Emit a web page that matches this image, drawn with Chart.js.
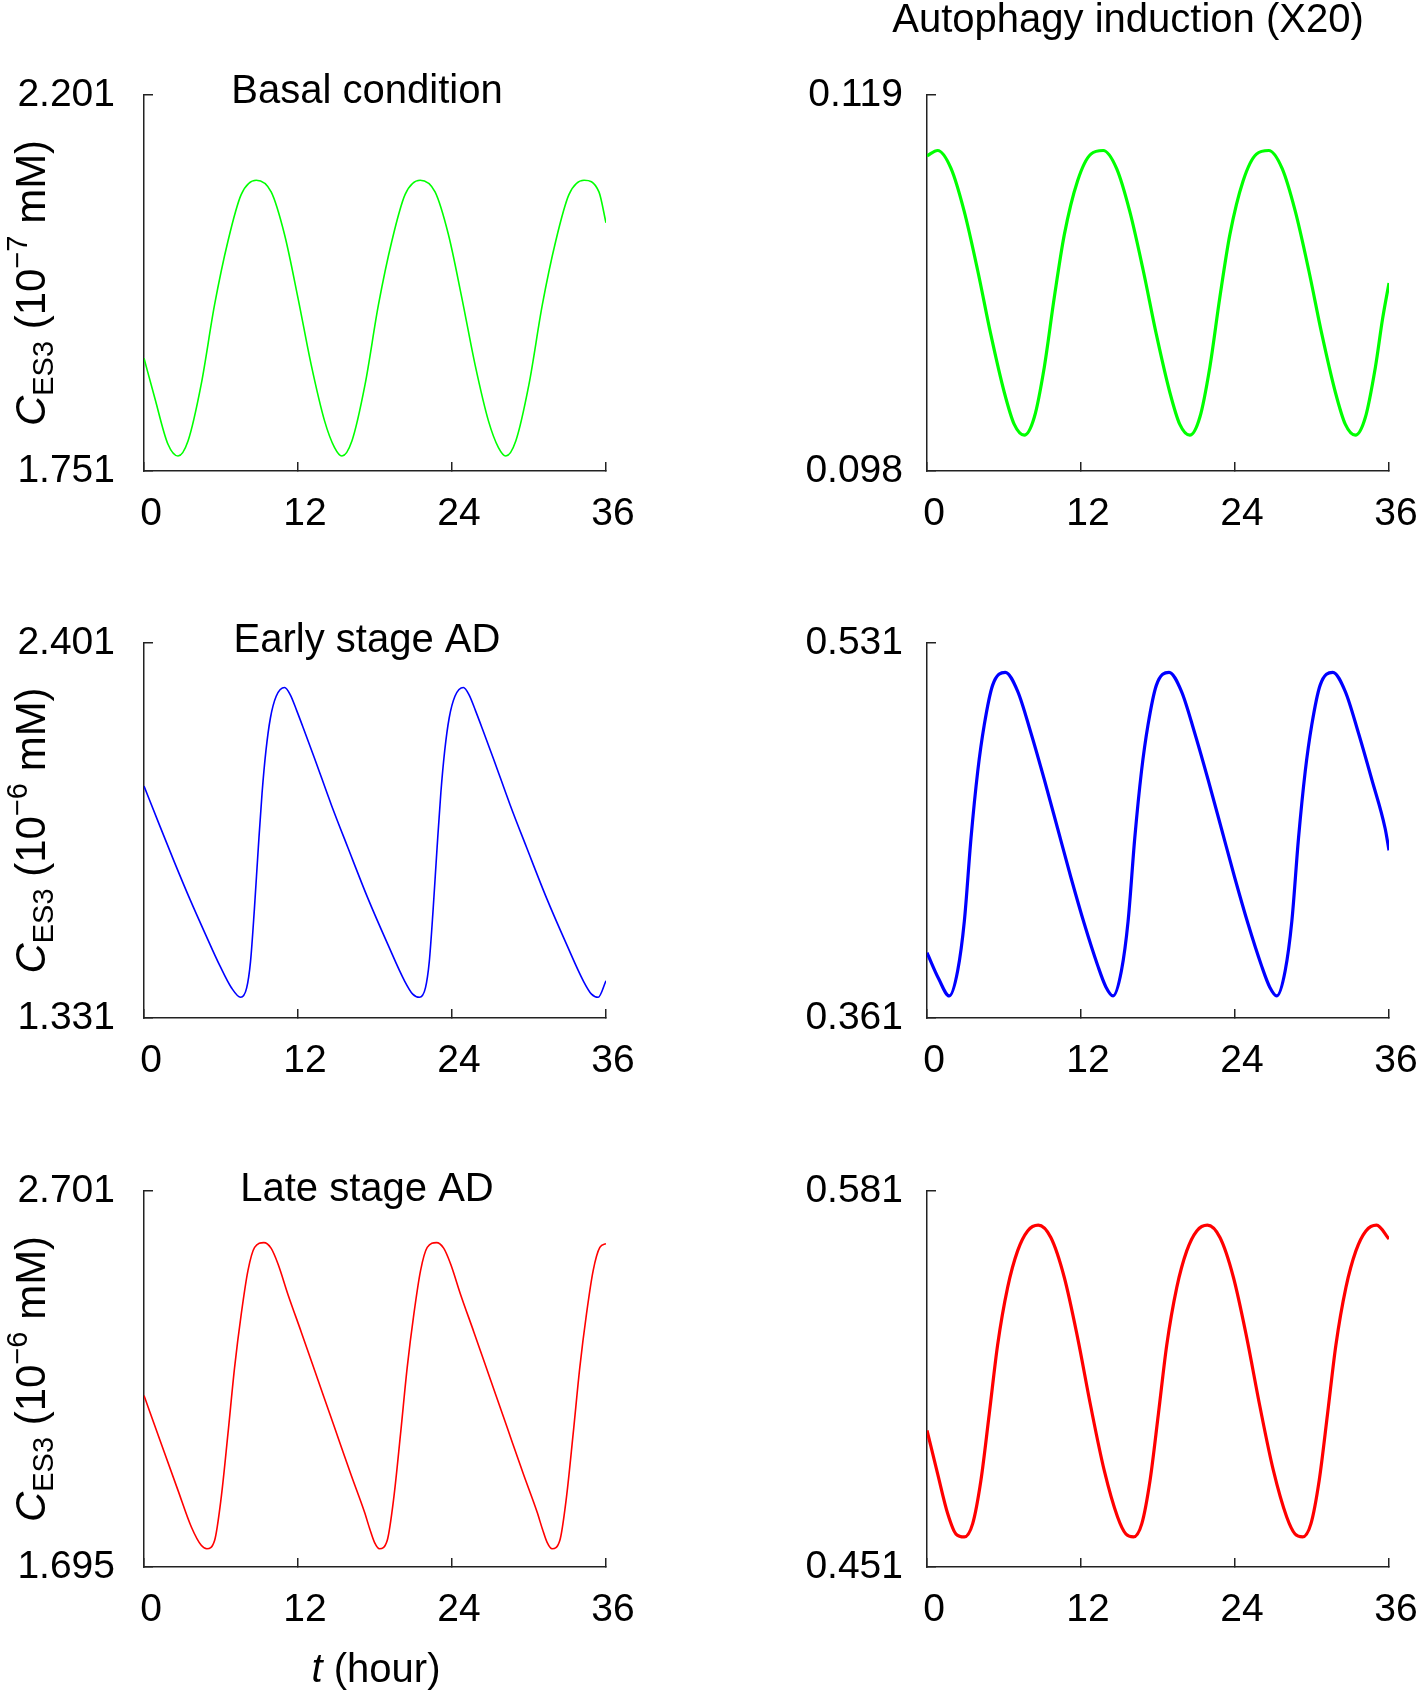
<!DOCTYPE html>
<html>
<head>
<meta charset="utf-8">
<title>CES3 time courses</title>
<script src="https://cdn.jsdelivr.net/npm/chart.js@4.4.1/dist/chart.umd.min.js"></script>
<style>
  html, body { margin: 0; padding: 0; background: #fff; }
  #page { position: relative; width: 1418px; height: 1693px; }
  #page canvas { position: absolute; left: 0; top: 0; }
</style>
</head>
<body>
<div id="page">
  <canvas id="basal" width="1418" height="1693"></canvas>
  <canvas id="basalAuto" width="1418" height="1693"></canvas>
  <canvas id="early" width="1418" height="1693"></canvas>
  <canvas id="earlyAuto" width="1418" height="1693"></canvas>
  <canvas id="late" width="1418" height="1693"></canvas>
  <canvas id="lateAuto" width="1418" height="1693"></canvas>
</div>
<script>
// shared time axis (hours)
const hourTicks = [0, 12, 24, 36];

// Basal condition
const basalHours = [0, 0.83, 1.87, 2.65, 3.43, 4.46, 5.5, 6.54, 7.58, 8.75, 9.91, 10.95, 12.0, 13.03, 14.07, 14.85, 15.42,
  16.2, 17.23, 18.27, 19.31, 20.35, 21.52, 22.68, 23.72, 24.77, 25.8, 26.84, 27.62, 28.19,
  28.97, 30.0, 31.04, 32.08, 33.12, 34.29, 35.45, 36.0];
const basalConc = [1.886, 1.839, 1.783, 1.769, 1.787, 1.855, 1.950, 2.026, 2.082, 2.099, 2.085, 2.034, 1.958, 1.878, 1.811, 1.779, 1.769,
  1.787, 1.855, 1.950, 2.026, 2.082, 2.099, 2.085, 2.034, 1.958, 1.878, 1.811, 1.779, 1.769,
  1.787, 1.855, 1.950, 2.026, 2.082, 2.099, 2.085, 2.048];
const basalTicks = [1.751, 2.201];

// Basal condition, autophagy induction (X20)
const basalAutoHours = [0, 0.83, 1.87, 2.9, 3.95, 4.98, 6.02, 6.8, 7.58, 8.36, 9.14, 9.92, 10.7, 11.73, 12.77, 13.73,
  14.77, 15.8, 16.85, 17.88, 18.92, 19.7, 20.48, 21.26, 22.04, 22.82, 23.6, 24.63, 25.67, 26.63,
  27.67, 28.7, 29.75, 30.78, 31.82, 32.6, 33.38, 34.16, 34.94, 35.5, 36.0];
const basalAutoConc = [0.1156, 0.1159, 0.1149, 0.1125, 0.1092, 0.1056, 0.1024, 0.1006, 0.1000, 0.1010, 0.1038, 0.1077, 0.1112, 0.1142, 0.1157, 0.1159,
  0.1149, 0.1125, 0.1092, 0.1056, 0.1024, 0.1006, 0.1000, 0.1010, 0.1038, 0.1077, 0.1112, 0.1142, 0.1157, 0.1159,
  0.1149, 0.1125, 0.1092, 0.1056, 0.1024, 0.1006, 0.1000, 0.1010, 0.1038, 0.1065, 0.1085];
const basalAutoTicks = [0.098, 0.119];

// Early stage AD
const earlyHours = [0, 1.2, 2.4, 3.6, 4.8, 5.9, 6.8, 7.53, 8.0, 8.3, 8.6, 8.9, 9.2, 9.5, 9.85, 10.3, 10.96,
  11.4, 11.9, 12.5, 13.3, 14.6, 15.9, 17.44, 19.0, 20.3, 20.94, 21.46,
  21.93, 22.23, 22.53, 22.83, 23.13, 23.43, 23.78, 24.23, 24.89,
  25.33, 25.83, 26.43, 27.23, 28.53, 29.83, 31.37, 32.93, 34.23, 34.87, 35.39, 36.0];
const earlyConc = [1.993, 1.882, 1.773, 1.668, 1.569, 1.481, 1.418, 1.390, 1.417, 1.492, 1.641, 1.813, 1.973, 2.093, 2.187, 2.249, 2.274,
  2.253, 2.208, 2.150, 2.071, 1.939, 1.816, 1.673, 1.541, 1.437, 1.399, 1.390,
  1.417, 1.492, 1.641, 1.813, 1.973, 2.093, 2.187, 2.249, 2.274,
  2.253, 2.208, 2.150, 2.071, 1.939, 1.816, 1.673, 1.541, 1.437, 1.399, 1.390, 1.437];
const earlyTicks = [1.331, 2.401];

// Early stage AD, autophagy induction
const earlyAutoHours = [0, 0.9, 1.74, 2.39, 2.91, 3.43, 3.95, 4.46, 5.11, 6.1, 7.06, 8.1, 9.14, 10.18, 11.21, 12.25, 13.3, 13.94, 14.5,
  15.15, 15.67, 16.19, 16.71, 17.22, 17.87, 18.86, 19.82, 20.86, 21.9, 22.94, 23.97, 25.01, 26.06, 26.7, 27.26,
  27.91, 28.43, 28.95, 29.47, 29.98, 30.63, 31.62, 32.58, 33.62, 34.66, 35.7, 36.0];
const earlyAutoConc = [0.3906, 0.3789, 0.3710, 0.3824, 0.4049, 0.4426, 0.4727, 0.4938, 0.5118, 0.5177, 0.5092, 0.4902, 0.4691, 0.4469, 0.4248, 0.4038, 0.3848, 0.3751, 0.3710,
  0.3824, 0.4049, 0.4426, 0.4727, 0.4938, 0.5118, 0.5177, 0.5092, 0.4902, 0.4691, 0.4469, 0.4248, 0.4038, 0.3848, 0.3751, 0.3710,
  0.3824, 0.4049, 0.4426, 0.4727, 0.4938, 0.5118, 0.5177, 0.5092, 0.4902, 0.4691, 0.4469, 0.4370];
const earlyAutoTicks = [0.361, 0.531];

// Late stage AD
const lateHours = [0, 1.35, 2.65, 3.69, 4.46, 4.9, 5.5, 6.02, 6.54, 7.06, 7.58, 8.1, 8.62, 9.34,
  9.9, 10.45, 11.21, 12.25, 13.55, 14.85, 16.14, 17.18, 17.6, 17.96, 18.35,
  18.95, 19.47, 19.99, 20.51, 21.03, 21.55, 22.07, 22.79,
  23.35, 23.9, 24.66, 25.7, 27.0, 28.3, 29.59, 30.63, 31.05, 31.41, 31.8,
  32.4, 32.92, 33.44, 33.96, 34.48, 35.0, 35.52, 36.0];
const lateConc = [2.154, 2.024, 1.900, 1.802, 1.753, 1.744, 1.766, 1.882, 2.051, 2.229, 2.372, 2.488, 2.550, 2.563,
  2.548, 2.505, 2.425, 2.324, 2.196, 2.068, 1.941, 1.842, 1.796, 1.761, 1.744,
  1.766, 1.882, 2.051, 2.229, 2.372, 2.488, 2.550, 2.563,
  2.548, 2.505, 2.425, 2.324, 2.196, 2.068, 1.941, 1.842, 1.796, 1.761, 1.744,
  1.766, 1.882, 2.051, 2.229, 2.372, 2.488, 2.550, 2.560];
const lateTicks = [1.695, 2.701];

// Late stage AD, autophagy induction
const lateAutoHours = [0, 0.83, 1.61, 2.26, 2.91, 3.56, 4.2, 4.85, 5.5, 6.28, 7.06, 7.84, 8.67,
  9.65, 10.7, 11.73, 12.77, 13.81, 14.85, 15.5, 16.09, 16.74, 17.38, 18.03, 18.68, 19.46, 20.24, 21.02, 21.85,
  22.83, 23.88, 24.91, 25.95, 26.99, 28.03, 28.68, 29.27, 29.92, 30.56, 31.21, 31.86, 32.64, 33.42, 34.2, 35.03, 36.0];
const lateAutoConc = [0.4982, 0.4832, 0.4695, 0.4624, 0.4614, 0.4660, 0.4809, 0.5039, 0.5277, 0.5476, 0.5603, 0.5672, 0.5692,
  0.5649, 0.5511, 0.5304, 0.5063, 0.4844, 0.4683, 0.4624, 0.4614, 0.4660, 0.4809, 0.5039, 0.5277, 0.5476, 0.5603, 0.5672, 0.5692,
  0.5649, 0.5511, 0.5304, 0.5063, 0.4844, 0.4683, 0.4624, 0.4614, 0.4660, 0.4809, 0.5039, 0.5277, 0.5476, 0.5603, 0.5672, 0.5692, 0.5644];
const lateAutoTicks = [0.451, 0.581];

const panelTitles = ['Basal condition', 'Early stage AD', 'Late stage AD'];
const columnTitle = 'Autophagy induction (X20)';

const PAGE_W = 1418, PAGE_H = 1693;
const FONT = '"Liberation Sans", Arial, sans-serif';
Chart.defaults.font.family = FONT;
Chart.defaults.font.size = 39;
Chart.defaults.color = '#000';

function partFont(p) {
  return (p.italic ? 'italic ' : '') + (p.size || 40) + 'px ' + FONT;
}

// text with sub/superscripts, centred on (x, y) baseline
function drawRich(ctx, item) {
  ctx.save();
  ctx.translate(item.x, item.y);
  if (item.rotate) ctx.rotate(item.rotate);
  ctx.textAlign = 'left';
  ctx.textBaseline = 'alphabetic';
  ctx.fillStyle = '#000';
  let total = 0;
  item.parts.forEach(function(p) {
    ctx.font = partFont(p);
    p.w = ctx.measureText(p.text).width;
    total += p.w;
  });
  let x = -total / 2;
  item.parts.forEach(function(p) {
    ctx.font = partFont(p);
    ctx.fillText(p.text, x, p.shift || 0);
    x += p.w;
  });
  ctx.restore();
}

function textPlugin(items) {
  return {
    id: 'panelText',
    afterDraw: function(chart) {
      items.forEach(function(item) { drawRich(chart.ctx, item); });
    }
  };
}

function cesLabel(exp, yMid) {
  return {
    x: 45, y: yMid, rotate: -Math.PI / 2,
    parts: [
      {text: 'C', italic: true, size: 42},
      {text: 'ES3', size: 29, shift: 8},
      {text: ' (10', size: 42},
      {text: '\u2212' + exp, size: 29, shift: -18},
      {text: ' mM)', size: 42}
    ]
  };
}

const axisGrid = {display: true, drawOnChartArea: false, drawTicks: true, tickLength: -9, color: '#222', lineWidth: 1.5};
const axisBorder = {display: true, color: '#222', width: 1.5};

function drawPanel(id, hours, conc, yTicks, color, lineWidth, area, labelPad, items) {
  const points = hours.map(function(h, i) { return {x: h, y: conc[i]}; });
  new Chart(document.getElementById(id), {
    type: 'line',
    data: {
      datasets: [{
        data: points,
        borderColor: color,
        borderWidth: lineWidth,
        pointRadius: 0,
        cubicInterpolationMode: 'monotone',
        fill: false
      }]
    },
    options: {
      responsive: false,
      animation: false,
      devicePixelRatio: 1,
      layout: {padding: {left: 0, top: area.top, right: PAGE_W - area.right, bottom: 0}},
      plugins: {legend: {display: false}, tooltip: {enabled: false}},
      scales: {
        x: {
          type: 'linear', min: 0, max: 36,
          afterBuildTicks: function(s) { s.ticks = hourTicks.map(function(v) { return {value: v}; }); },
          afterFit: function(s) { s.height = PAGE_H - area.bottom; s.paddingLeft = 0; s.paddingRight = 0; },
          grid: axisGrid,
          border: axisBorder,
          ticks: {padding: 29, labelOffset: 7, autoSkip: false, maxRotation: 0}
        },
        y: {
          type: 'linear', min: yTicks[0], max: yTicks[1],
          afterBuildTicks: function(s) { s.ticks = yTicks.map(function(v) { return {value: v}; }); },
          afterFit: function(s) { s.width = area.left; s.paddingTop = 0; s.paddingBottom = 0; },
          grid: axisGrid,
          border: axisBorder,
          ticks: {padding: labelPad, callback: function(v) { return v.toFixed(3); }}
        }
      }
    },
    plugins: [textPlugin(items)]
  });
}

const leftCol = {left: 144, right: 606};
const rightCol = {left: 927, right: 1389};
const rows = [{top: 95, bottom: 471}, {top: 643, bottom: 1018}, {top: 1191, bottom: 1567}];

function area(col, row) {
  return {left: col.left, right: col.right, top: row.top, bottom: row.bottom};
}
function mid(row) { return (row.top + row.bottom) / 2; }

drawPanel('basal', basalHours, basalConc, basalTicks, '#00ff00', 1.6, area(leftCol, rows[0]), 38, [
  {x: 367, y: 103, parts: [{text: panelTitles[0]}]},
  cesLabel(7, mid(rows[0]))
]);
drawPanel('basalAuto', basalAutoHours, basalAutoConc, basalAutoTicks, '#00ff00', 3.2, area(rightCol, rows[0]), 33, [
  {x: 1128, y: 32, parts: [{text: columnTitle}]}
]);
drawPanel('early', earlyHours, earlyConc, earlyTicks, '#0000ff', 1.6, area(leftCol, rows[1]), 38, [
  {x: 367, y: 652, parts: [{text: panelTitles[1]}]},
  cesLabel(6, mid(rows[1]))
]);
drawPanel('earlyAuto', earlyAutoHours, earlyAutoConc, earlyAutoTicks, '#0000ff', 3.2, area(rightCol, rows[1]), 33, []);
drawPanel('late', lateHours, lateConc, lateTicks, '#ff0000', 1.6, area(leftCol, rows[2]), 38, [
  {x: 367, y: 1201, parts: [{text: panelTitles[2]}]},
  cesLabel(6, mid(rows[2])),
  {x: 376, y: 1682, parts: [{text: 't', italic: true}, {text: ' (hour)'}]}
]);
drawPanel('lateAuto', lateAutoHours, lateAutoConc, lateAutoTicks, '#ff0000', 3.2, area(rightCol, rows[2]), 33, []);
</script>
</body>
</html>
